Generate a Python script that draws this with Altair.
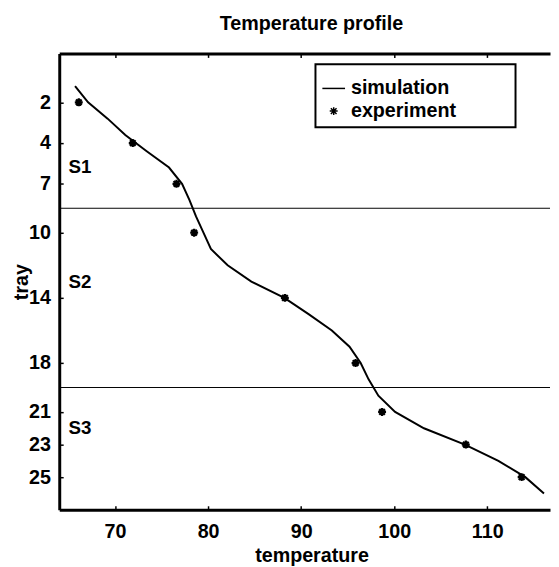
import altair as alt
import pandas as pd

# ---------------- data ----------------
sim_tray = list(range(1, 27))
sim_temp = [65.7, 67.1, 69.2, 71.1, 73.4, 75.8, 77.2, 78.0, 78.7, 79.5, 80.3, 82.1, 84.65,
            88.2, 90.8, 93.3, 95.2, 96.4, 97.25, 98.3, 100.1, 103.2, 107.6, 111.2, 114.1, 116.1]
exp_tray = [2, 4.5, 7, 10, 14, 18, 21, 23, 25]
exp_temp = [66.1, 71.9, 76.6, 78.5, 88.25, 95.85, 98.7, 107.7, 113.7]
tray_ticks = [2, 4.5, 7, 10, 14, 18, 21, 23, 25]
tray_tick_labels = ["2", "4", "7", "10", "14", "18", "21", "23", "25"]
temp_ticks = [70, 80, 90, 100, 110]
section_names = ["S1", "S2", "S3"]
section_tray = [6, 13, 22]
section_temp = [65, 65, 65]
boundary_tray = [8.5, 19.5]
series_names = ["simulation", "experiment"]

sim_df = pd.DataFrame({"temp": sim_temp, "tray": sim_tray})
exp_df = pd.DataFrame({"temp": exp_temp, "tray": exp_tray, "series": "experiment"})
sec_df = pd.DataFrame({"temp": section_temp, "tray": section_tray, "name": section_names})
bnd_df = pd.DataFrame({"tray": boundary_tray})

FONT = "Liberation Sans"
W, H = 498, 463
x_scale = alt.Scale(domain=[64.0, 116.75], nice=False, zero=False)
y_scale = alt.Scale(domain=[-1, 27], reverse=True, nice=False, zero=False)

label_expr = "[{}][indexof([{}], datum.value)]".format(
    ",".join("'%s'" % s for s in tray_tick_labels), ",".join(str(v) for v in tray_ticks))

star = "M-0.35,0L0.35,0M0,-0.35L0,0.35M-0.25,-0.25L0.25,0.25M-0.25,0.25L0.25,-0.25"
PAD = "\u00a0" * 7 + "\u2800"
BLANK = "\u2800"

line = alt.Chart(sim_df).mark_line(color="black", strokeWidth=2).encode(
    x=alt.X("temp:Q", scale=x_scale, axis=alt.Axis(
        orient="bottom", values=temp_ticks, format="d", ticks=False, grid=False,
        domainWidth=3, domainColor="black", labelPadding=12,
        title="temperature", titleX=256, titleY=53, titleBaseline="alphabetic",
        titleAlign="center")),
    y=alt.Y("tray:Q", scale=y_scale, axis=alt.Axis(
        values=tray_ticks, labelExpr=label_expr, grid=False, ticks=False,
        domainWidth=3, domainColor="black", labelPadding=9,
        title="tray", titleX=-38.5, titleY=H / 2, titleAngle=270,
        titleBaseline="middle", titleAlign="center")),
    order="tray:Q",
)

points = alt.Chart(exp_df).mark_point(filled=False, color="black", strokeWidth=2.3,
                                      size=529, opacity=1).encode(
    x=alt.X("temp:Q", scale=x_scale, axis=alt.Axis(
        orient="bottom", offset=-4, values=temp_ticks, domain=False, labels=False,
        ticks=True, tickSize=4, tickWidth=1.5, tickColor="black", title=None, grid=False)),
    y=alt.Y("tray:Q", scale=y_scale, axis=None),
    shape=alt.Shape("series:N", scale=alt.Scale(domain=series_names, range=["stroke", star]),
                    legend=alt.Legend(
                        orient="none", legendX=260, legendY=11, title=BLANK,
                        titleFontSize=6, titlePadding=0,
                        labelFont=FONT, labelFontWeight="bold", labelFontSize=20,
                        labelColor="black", labelOffset=5, rowPadding=0, labelLimit=400,
                        symbolStrokeColor="black", symbolStrokeWidth=1.5, symbolSize=529,
                        symbolOpacity=1, strokeColor="black", fillColor="white",
                        padding=6, labelExpr="datum.label + '" + PAD + "'")),
)

texts = alt.Chart(sec_df).mark_text(align="left", baseline="middle", font=FONT,
                                    fontWeight="bold", fontSize=19, color="black").encode(
    x=alt.X("temp:Q", scale=x_scale, axis=alt.Axis(
        orient="top", domain=True, domainWidth=3, domainColor="black", ticks=False,
        labels=False, title=None, grid=False)),
    y=alt.Y("tray:Q", scale=y_scale, axis=None),
    text="name:N",
)

inner_ticks = alt.Chart(exp_df).mark_point(opacity=0).encode(
    x=alt.X("temp:Q", scale=x_scale, axis=alt.Axis(
        orient="top", offset=-4, values=temp_ticks, domain=False, labels=False,
        ticks=True, tickSize=4, tickWidth=1.5, tickColor="black", title=None, grid=False)),
    y=alt.Y("tray:Q", scale=y_scale, axis=alt.Axis(
        orient="left", offset=-4, values=tray_ticks, domain=False, labels=False,
        ticks=True, tickSize=4, tickWidth=1.5, tickColor="black", title=None, grid=False)),
)

rules = alt.Chart(bnd_df).mark_rule(color="black", strokeWidth=1).encode(
    y=alt.Y("tray:Q", scale=y_scale, axis=None),
)

chart = alt.layer(rules, line, points, texts, inner_ticks).resolve_axis(
    x="independent", y="independent"
).properties(
    width=W, height=H,
    autosize=alt.AutoSizeParams(type="none"),
    padding={"left": 52, "top": 42, "right": 1, "bottom": 54},
    title=alt.TitleParams("Temperature profile", font=FONT, fontWeight="bold", fontSize=20,
                          color="black", anchor="middle", dx=7, offset=3.5,
                          baseline="alphabetic"),
).configure_view(stroke=None).configure_axis(
    labelFont=FONT, labelFontWeight="bold", labelFontSize=20, labelColor="black",
    titleFont=FONT, titleFontWeight="bold", titleFontSize=20, titleColor="black",
).configure_legend(strokeWidth=2)

chart.save("out.html", embed_options={"renderer": "svg", "actions": False})
